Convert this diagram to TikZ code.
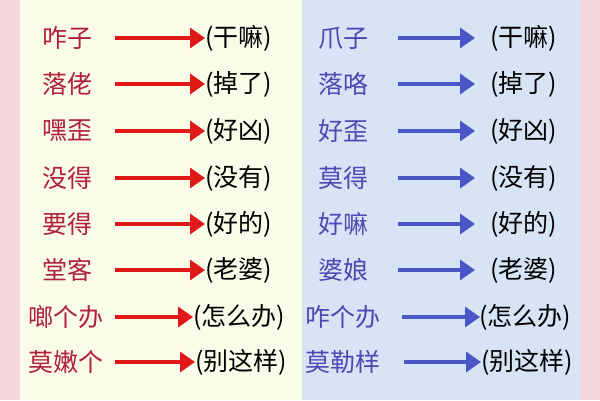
\documentclass[tikz,border=0pt]{standalone}
\usepackage{fontspec}
\newfontfamily\cjk{Noto Sans CJK SC}
\usetikzlibrary{arrows.meta}
\definecolor{pinkbg}{HTML}{F2D6DB}
\definecolor{creambg}{HTML}{FBFBEA}
\definecolor{bluebg}{HTML}{D6E4F5}
\definecolor{redword}{HTML}{B0203A}
\definecolor{blueword}{HTML}{4A4AB4}
\definecolor{redarrow}{HTML}{E01818}
\definecolor{bluearrow}{HTML}{4A55C8}
\tikzset{word/.style={anchor=west,inner sep=0pt,font=\cjk\fontsize{25}{25}\selectfont},
         leftword/.style={word,text=redword},
         rightword/.style={word,text=blueword},
         meaning/.style={word,text=black},
         redarr/.style={draw=redarrow,line width=3.5pt,-{Triangle[length=15pt,width=20pt]}},
         bluearr/.style={draw=bluearrow,line width=3.5pt,-{Triangle[length=15pt,width=20pt]}},
        }
\begin{document}
\begin{tikzpicture}[x=1pt,y=-1pt]
        \fill[pinkbg](0,0)rectangle(600,400);
        \fill[creambg](20,0)rectangle(302,400);
        \fill[bluebg](302,0)rectangle(580,400);
        \useasboundingbox(0,0)rectangle(600,400);

        % left column
        \foreach \w/\m/\y/\x/\a/\b [count=\i] in {咋子/(干嘛)/38/42/115/205, 落佬/(掉了)/84/42/115/205,
            嘿歪/(好凶)/131/42/115/205, 没得/(没有)/178/42/115/205, 要得/(好的)/224/42/115/205,
            堂客/(老婆)/270/42/115/205, 啷个办/(怎么办)/317/28/115/193, 莫嫩个/(别这样)/362/28/115/195}{
            \node[leftword](lw\i)at(\x,\y){\w};
            \coordinate(la\i)at(\a,\y);
            \node[meaning](lm\i)at(\b,\y){\m};
            \draw[redarr](la\i)--(lm\i.west);
        }
        % right column
        \foreach \w/\m/\y/\x/\a/\b/\e [count=\i] in {爪子/(干嘛)/38/318/398/490/475, 落咯/(掉了)/84/318/398/490/475,
            好歪/(好凶)/131/318/398/490/475, 莫得/(没有)/178/318/398/490/475, 好嘛/(好的)/224/318/398/490/475,
            婆娘/(老婆)/270/318/398/490/475, 咋个办/(怎么办)/317/305/402/479/480, 莫勒样/(别这样)/362/305/404/481/481}{
            \node[rightword](rw\i)at(\x,\y){\w};
            \coordinate(ra\i)at(\a,\y);
            \coordinate(re\i)at(\e,\y);
            \node[meaning](rm\i)at(\b,\y){\m};
            \draw[bluearr](ra\i)--(re\i);
        }
\end{tikzpicture}
\end{document}
